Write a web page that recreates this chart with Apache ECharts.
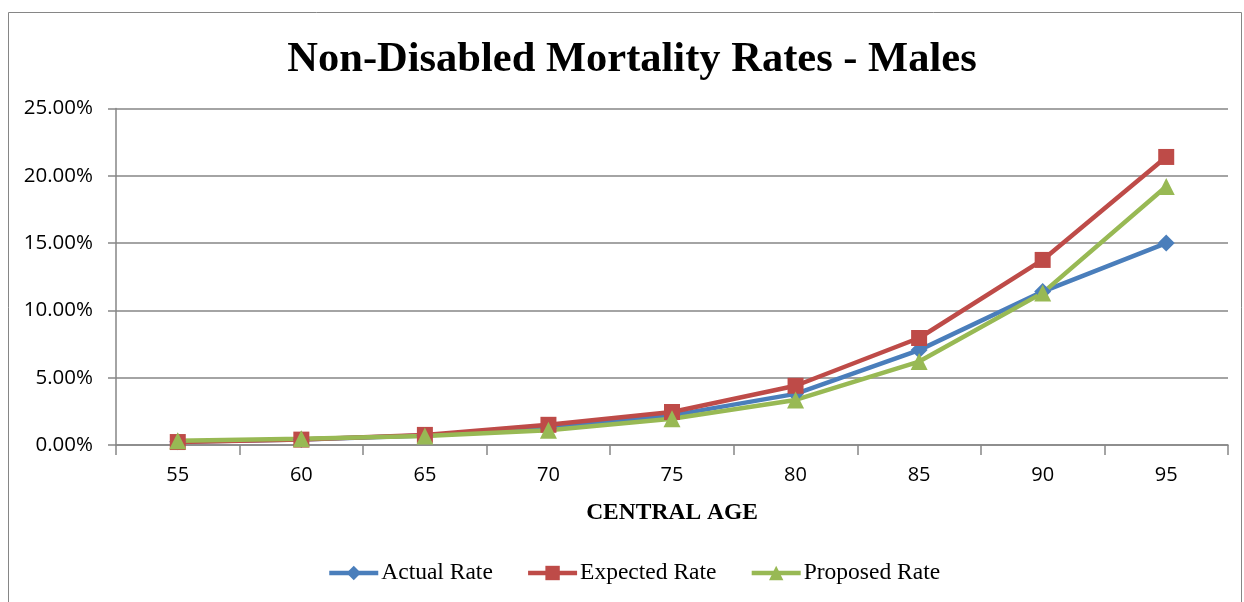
<!DOCTYPE html>
<html>
<head>
<meta charset="utf-8">
<script src="https://cdn.jsdelivr.net/npm/echarts@6/dist/echarts.min.js"></script>
<style>
  html, body { margin: 0; padding: 0; background: #fff; }
  #chart { width: 1244px; height: 602px; }
</style>
</head>
<body>
<div id="chart"></div>
<script>
// Central ages (x categories)
const ages = ['55', '60', '65', '70', '75', '80', '85', '90', '95'];

// Mortality rates in percent
const actualRate   = [0.25, 0.40, 0.70, 1.25, 2.20, 3.80, 7.05, 11.40, 15.00];
const expectedRate = [0.22, 0.40, 0.75, 1.50, 2.45, 4.40, 7.95, 13.75, 21.40];
const proposedRate = [0.32, 0.47, 0.66, 1.10, 1.95, 3.35, 6.20, 11.30, 19.20];

const seriesNames = ['Actual Rate', 'Expected Rate', 'Proposed Rate'];

const chart = echarts.init(document.getElementById('chart'));

const lineSeries = (name, data, color, symbol, size) => ({
  name,
  type: 'line',
  data,
  symbol,
  symbolSize: size,
  showAllSymbol: true,
  lineStyle: { color, width: 4.5 },
  itemStyle: { color },
  emphasis: { disabled: true },
  animation: false
});

chart.setOption({
  animation: false,
  backgroundColor: '#fff',
  graphic: [{
    type: 'rect',
    shape: { x: 8.5, y: 12.5, width: 1233, height: 600 },
    style: { fill: 'none', stroke: '#868686', lineWidth: 1 },
    silent: true
  }],
  title: {
    text: 'Non-Disabled Mortality Rates - Males',
    left: 627,
    top: 34,
    textAlign: 'center',
    textStyle: {
      fontFamily: 'Liberation Serif',
      fontWeight: 'bold',
      fontSize: 42.5,
      color: '#000'
    }
  },
  grid: { left: 116, right: 16, top: 108.5, bottom: 157, containLabel: false },
  legend: {
    data: seriesNames,
    bottom: 12,
    left: 322,
    itemWidth: 49,
    itemHeight: 18,
    itemGap: 33,
    lineStyle: { width: 4.5 },
    textStyle: { fontFamily: 'Liberation Serif', fontSize: 23.5, color: '#000', padding: [0, 0, 0, -2] }
  },
  xAxis: {
    type: 'category',
    data: ages,
    boundaryGap: true,
    name: 'CENTRAL AGE',
    nameLocation: 'middle',
    nameGap: 56,
    nameTextStyle: { fontFamily: 'Liberation Serif', fontWeight: 'bold', fontSize: 23.5, color: '#000' },
    axisLine: { lineStyle: { color: '#868686', width: 1.5 } },
    axisTick: { show: true, length: 10, interval: 0, alignWithLabel: false, lineStyle: { color: '#868686', width: 1.5 } },
    axisLabel: { fontFamily: 'Open Sans', fontSize: 20, color: '#000', margin: 20 }
  },
  yAxis: {
    type: 'value',
    min: 0,
    max: 25,
    interval: 5,
    axisLine: { show: true, lineStyle: { color: '#868686', width: 1.5 } },
    axisTick: { show: true, length: 8, inside: false, lineStyle: { color: '#868686', width: 1.5 } },
    splitLine: { lineStyle: { color: '#868686', width: 1.5 } },
    axisLabel: {
      fontFamily: 'Open Sans',
      fontSize: 20.5,
      color: '#000',
      margin: 23,
      formatter: v => v.toFixed(2) + '%'
    }
  },
  series: [
    lineSeries(seriesNames[0], actualRate, '#4A7EBB', 'diamond', 17),
    lineSeries(seriesNames[1], expectedRate, '#BE4B48', 'rect', 16),
    lineSeries(seriesNames[2], proposedRate, '#98B954', 'triangle', 17)
  ]
});
</script>
</body>
</html>
